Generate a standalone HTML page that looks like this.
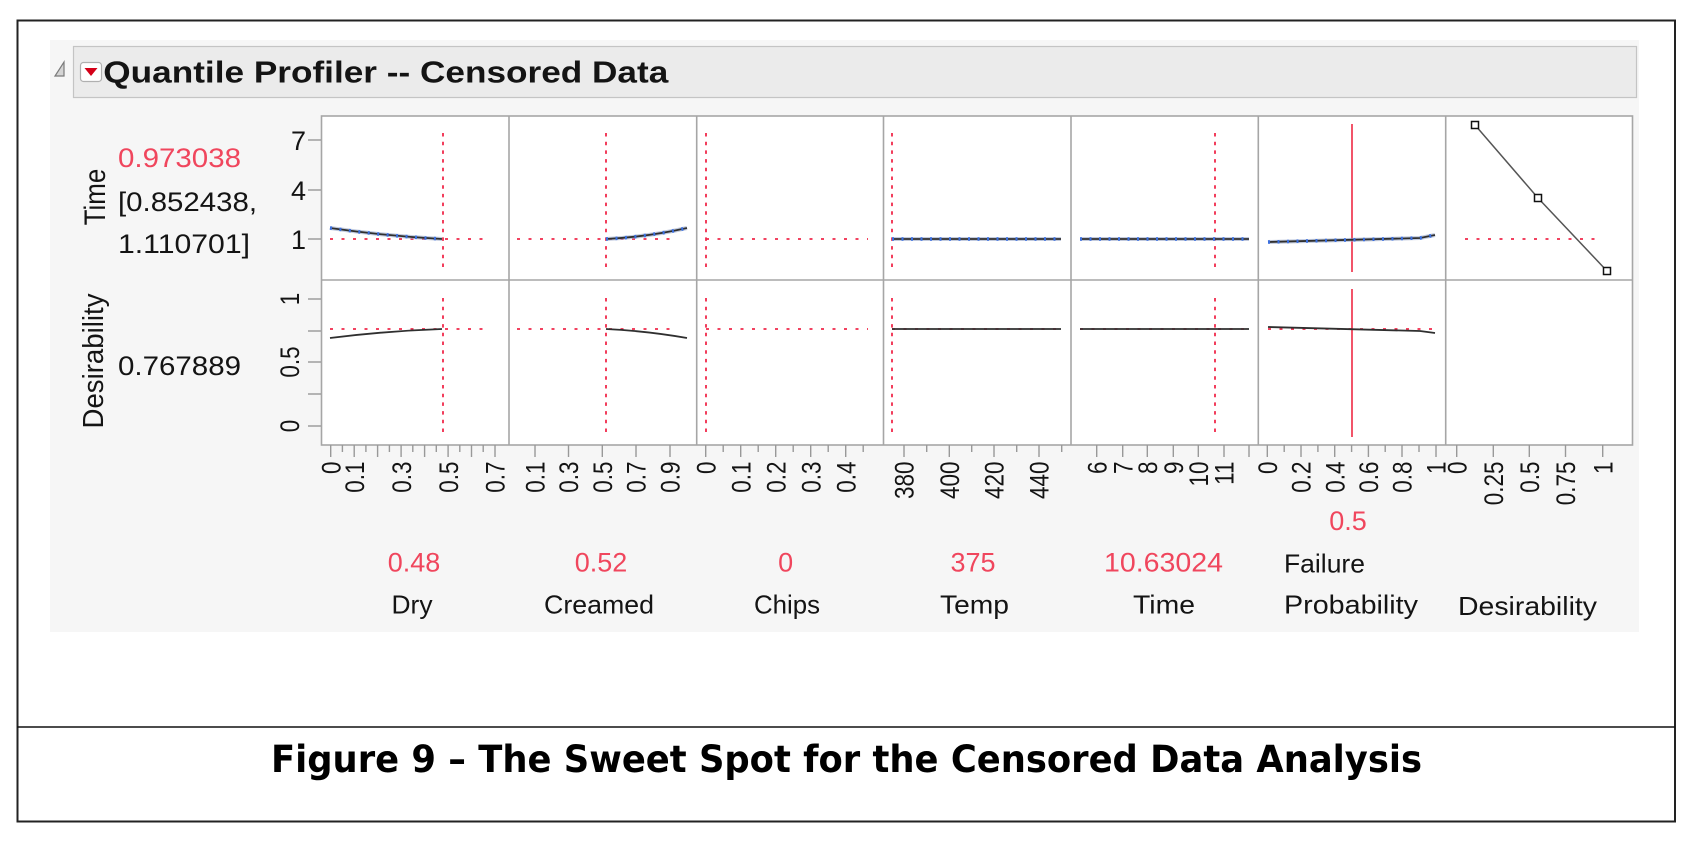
<!DOCTYPE html>
<html>
<head>
<meta charset="utf-8">
<style>
html,body{margin:0;padding:0;background:#fff;}
svg{display:block;}
text{font-family:"Liberation Sans",Arial,sans-serif;}
</style>
</head>
<body>
<svg width="1688" height="844" viewBox="0 0 1688 844" xmlns="http://www.w3.org/2000/svg">
  <!-- background -->
  <rect x="0" y="0" width="1688" height="844" fill="#ffffff"/>
  <!-- outer border -->
  <rect x="17.5" y="20.5" width="1657.5" height="801" fill="none" stroke="#222" stroke-width="2"/>
  <line x1="17" y1="727" x2="1675" y2="727" stroke="#111" stroke-width="1.6"/>

  <!-- gray panel -->
  <rect x="50" y="40" width="1589" height="592" fill="#f6f6f6"/>
  <!-- header -->
  <rect x="73.5" y="46.5" width="1563" height="51" fill="#ebebeb" stroke="#c4c4c4" stroke-width="1.2"/>
  <!-- disclosure triangle -->
  <polygon points="64,62 64,76 55,76" fill="#d4d4d4" stroke="#7a7a7a" stroke-width="1.2"/>
  <!-- red dropdown icon -->
  <rect x="80.5" y="62.5" width="21" height="19" rx="3" fill="#fff" stroke="#b0b0b0" stroke-width="1.2"/>
  <polygon points="84.5,68 97.5,68 91,76" fill="#d40018"/>
  <text x="103.3" y="82.7" font-weight="bold" font-size="31" textLength="565" lengthAdjust="spacingAndGlyphs" fill="#141414">Quantile Profiler -- Censored Data</text>

  <!-- plot area -->
  <rect x="321.5" y="116" width="1311" height="329" fill="#ffffff" stroke="#a6a6a6" stroke-width="1.6"/>
  <g stroke="#a6a6a6" stroke-width="1.6">
    <line x1="509" y1="116" x2="509" y2="445"/>
    <line x1="696.7" y1="116" x2="696.7" y2="445"/>
    <line x1="883.5" y1="116" x2="883.5" y2="445"/>
    <line x1="1071" y1="116" x2="1071" y2="445"/>
    <line x1="1258.3" y1="116" x2="1258.3" y2="445"/>
    <line x1="1445.7" y1="116" x2="1445.7" y2="445"/>
    <line x1="321.5" y1="280" x2="1632.5" y2="280"/>
  </g>

  <!-- left y-axis ticks -->
  <g stroke="#999" stroke-width="1.4">
    <line x1="308" y1="140" x2="321" y2="140"/>
    <line x1="308" y1="190" x2="321" y2="190"/>
    <line x1="308" y1="239" x2="321" y2="239"/>
    <line x1="308" y1="299" x2="321" y2="299"/>
    <line x1="308" y1="331" x2="321" y2="331"/>
    <line x1="308" y1="362" x2="321" y2="362"/>
    <line x1="308" y1="394" x2="321" y2="394"/>
    <line x1="308" y1="426" x2="321" y2="426"/>
  </g>
  <g font-size="27" fill="#141414" text-anchor="end">
    <text x="306" y="150">7</text>
    <text x="306" y="200">4</text>
    <text x="306" y="249">1</text>
  </g>
  <g font-size="22.5" fill="#141414" text-anchor="middle">
    <text transform="translate(299,299) rotate(-90) scale(1,1.2)">1</text>
    <text transform="translate(299,362) rotate(-90) scale(1,1.2)">0.5</text>
    <text transform="translate(299,426) rotate(-90) scale(1,1.2)">0</text>
  </g>

  <!-- left labels -->
  <g font-size="26" fill="#141414" text-anchor="middle">
    <text transform="translate(105,197) rotate(-90) scale(1,1.15)">Time</text>
    <text transform="translate(103,361) rotate(-90) scale(1,1.1)" textLength="135" lengthAdjust="spacingAndGlyphs">Desirability</text>
  </g>
  <g font-size="27">
    <text x="118" y="167" fill="#f0465d" textLength="123" lengthAdjust="spacingAndGlyphs">0.973038</text>
    <text x="118" y="211" fill="#141414" textLength="139" lengthAdjust="spacingAndGlyphs">[0.852438,</text>
    <text x="118" y="253" fill="#141414" textLength="132" lengthAdjust="spacingAndGlyphs">1.110701]</text>
    <text x="118" y="375" fill="#141414" textLength="123" lengthAdjust="spacingAndGlyphs">0.767889</text>
  </g>

  <!-- red dotted reference lines -->
  <g stroke="#f0284a" stroke-width="1.8" fill="none">
    <g stroke-dasharray="3 8.5">
      <line x1="330" y1="239" x2="491" y2="239"/>
      <line x1="517" y1="239" x2="678" y2="239"/>
      <line x1="706" y1="239" x2="868" y2="239"/>
      <line x1="1465" y1="239" x2="1603" y2="239"/>
      <line x1="330" y1="329" x2="491" y2="329"/>
      <line x1="517" y1="329" x2="678" y2="329"/>
      <line x1="706" y1="329" x2="868" y2="329"/>
      <line x1="892" y1="329" x2="1061" y2="329"/>
      <line x1="1080" y1="329" x2="1249" y2="329"/>
      <line x1="1268" y1="329" x2="1435" y2="329"/>
    </g>
    <g stroke-dasharray="3.5 5.2">
      <line x1="443" y1="133" x2="443" y2="272"/>
      <line x1="606" y1="133" x2="606" y2="272"/>
      <line x1="706" y1="133" x2="706" y2="272"/>
      <line x1="892" y1="133" x2="892" y2="272"/>
      <line x1="1215" y1="133" x2="1215" y2="272"/>
      <line x1="443" y1="298" x2="443" y2="437"/>
      <line x1="606" y1="298" x2="606" y2="437"/>
      <line x1="706" y1="298" x2="706" y2="437"/>
      <line x1="892" y1="298" x2="892" y2="437"/>
      <line x1="1215" y1="298" x2="1215" y2="437"/>
    </g>
    <line x1="1352" y1="124" x2="1352" y2="272" stroke="#ee2a44" stroke-width="1.6"/>
    <line x1="1352" y1="289" x2="1352" y2="437" stroke="#ee2a44" stroke-width="1.6"/>
  </g>

  <!-- response curves row 1 -->
  <g fill="none">
    <g stroke="#9aa8c8" stroke-width="4" opacity="0.6">
      <path d="M330,228 Q386,236 442,239"/>
      <path d="M606,239 Q647,237 687,228"/>
      <path d="M892,239 L1061,239"/>
      <path d="M1080,239 L1249,239"/>
      <path d="M1268,242 L1420,238 L1435,235"/>
    </g>
    <g stroke="#2f2f2f" stroke-width="1.8">
      <path d="M330,228 Q386,236 442,239"/>
      <path d="M606,239 Q647,237 687,228"/>
      <path d="M892,239 L1061,239"/>
      <path d="M1080,239 L1249,239"/>
      <path d="M1268,242 L1420,238 L1435,235"/>
    </g>
    <g stroke="#3a6fe0" stroke-width="3.5" stroke-dasharray="2 7.5">
      <path d="M330,228 Q386,236 442,239"/>
      <path d="M606,239 Q647,237 687,228"/>
      <path d="M892,239 L1061,239"/>
      <path d="M1080,239 L1249,239"/>
      <path d="M1268,242 L1420,238 L1435,235"/>
    </g>
    <!-- row 2 -->
    <g stroke="#2f2f2f" stroke-width="1.8">
      <path d="M330,338 Q386,331 442,329"/>
      <path d="M606,329 Q647,331 687,338"/>
      <path d="M892,329 L1061,329"/>
      <path d="M1080,329 L1249,329"/>
      <path d="M1268,327 L1420,331 L1435,333"/>
    </g>
    <!-- desirability function -->
    <path d="M1475,125 L1538,198 L1607,271" stroke="#555" stroke-width="1.5"/>
  </g>
  <g fill="#fff" stroke="#111" stroke-width="1.5">
    <rect x="1471.5" y="121.5" width="7" height="7"/>
    <rect x="1534.5" y="194.5" width="7" height="7"/>
    <rect x="1603.5" y="267.5" width="7" height="7"/>
  </g>

  <!-- bottom axis ticks -->
  <g stroke="#999" stroke-width="1.4">
    <path d="M330.7,445v12 M354.2,445v12 M377.6,445v12 M401.1,445v12 M424.6,445v12 M448.1,445v12 M471.5,445v12 M495,445v12"/>
    <path d="M342.4,445v7 M365.9,445v7 M389.4,445v7 M412.8,445v7 M436.3,445v7 M459.8,445v7 M483.2,445v7"/>
    <path d="M535,445v12 M568.5,445v12 M602.3,445v12 M636,445v12 M670,445v12"/>
    <path d="M705.7,445v12 M740.7,445v12 M775.7,445v12 M810.7,445v12 M845.7,445v12"/>
    <path d="M723.2,445v7 M758.2,445v7 M793.2,445v7 M828.2,445v7 M863.2,445v7"/>
    <path d="M904,445v12 M949.3,445v12 M994,445v12 M1039,445v12"/>
    <path d="M926.7,445v7 M971.7,445v7 M1016.7,445v7 M1061.7,445v7"/>
    <path d="M1096.7,445v12 M1122.7,445v12 M1147.3,445v12 M1173.3,445v12 M1198.3,445v12 M1224,445v12 M1249,445v12"/>
    <path d="M1267.3,445v12 M1301,445v12 M1334.7,445v12 M1368.4,445v12 M1402,445v12 M1436,445v12"/>
    <path d="M1284.2,445v7 M1317.9,445v7 M1351.6,445v7 M1385.2,445v7 M1419,445v7"/>
    <path d="M1456.7,445v12 M1493.3,445v12 M1529.3,445v12 M1565.5,445v12 M1602.7,445v12"/>
  </g>

  <!-- bottom axis labels (rotated) -->
  <g font-size="22.5" fill="#141414" text-anchor="end">
    <text transform="translate(340.4,461.5) rotate(-90) scale(1,1.2)">0</text>
    <text transform="translate(363.9,461.5) rotate(-90) scale(1,1.2)">0.1</text>
    <text transform="translate(410.8,461.5) rotate(-90) scale(1,1.2)">0.3</text>
    <text transform="translate(457.8,461.5) rotate(-90) scale(1,1.2)">0.5</text>
    <text transform="translate(504.7,461.5) rotate(-90) scale(1,1.2)">0.7</text>

    <text transform="translate(544.7,461.5) rotate(-90) scale(1,1.2)">0.1</text>
    <text transform="translate(578.2,461.5) rotate(-90) scale(1,1.2)">0.3</text>
    <text transform="translate(612,461.5) rotate(-90) scale(1,1.2)">0.5</text>
    <text transform="translate(645.7,461.5) rotate(-90) scale(1,1.2)">0.7</text>
    <text transform="translate(679.7,461.5) rotate(-90) scale(1,1.2)">0.9</text>

    <text transform="translate(715.4,461.5) rotate(-90) scale(1,1.2)">0</text>
    <text transform="translate(750.4,461.5) rotate(-90) scale(1,1.2)">0.1</text>
    <text transform="translate(785.4,461.5) rotate(-90) scale(1,1.2)">0.2</text>
    <text transform="translate(820.4,461.5) rotate(-90) scale(1,1.2)">0.3</text>
    <text transform="translate(855.4,461.5) rotate(-90) scale(1,1.2)">0.4</text>

    <text transform="translate(913.7,461.5) rotate(-90) scale(1,1.2)">380</text>
    <text transform="translate(959,461.5) rotate(-90) scale(1,1.2)">400</text>
    <text transform="translate(1003.7,461.5) rotate(-90) scale(1,1.2)">420</text>
    <text transform="translate(1048.7,461.5) rotate(-90) scale(1,1.2)">440</text>

    <text transform="translate(1106.4,461.5) rotate(-90) scale(1,1.2)">6</text>
    <text transform="translate(1132.4,461.5) rotate(-90) scale(1,1.2)">7</text>
    <text transform="translate(1157,461.5) rotate(-90) scale(1,1.2)">8</text>
    <text transform="translate(1183,461.5) rotate(-90) scale(1,1.2)">9</text>
    <text transform="translate(1208,461.5) rotate(-90) scale(1,1.2)">10</text>
    <text transform="translate(1233.7,461.5) rotate(-90) scale(1,1.2)">11</text>

    <text transform="translate(1277,461.5) rotate(-90) scale(1,1.2)">0</text>
    <text transform="translate(1310.7,461.5) rotate(-90) scale(1,1.2)">0.2</text>
    <text transform="translate(1344.4,461.5) rotate(-90) scale(1,1.2)">0.4</text>
    <text transform="translate(1378.1,461.5) rotate(-90) scale(1,1.2)">0.6</text>
    <text transform="translate(1411.7,461.5) rotate(-90) scale(1,1.2)">0.8</text>
    <text transform="translate(1445.7,461.5) rotate(-90) scale(1,1.2)">1</text>

    <text transform="translate(1466.4,461.5) rotate(-90) scale(1,1.2)">0</text>
    <text transform="translate(1503,461.5) rotate(-90) scale(1,1.2)">0.25</text>
    <text transform="translate(1539,461.5) rotate(-90) scale(1,1.2)">0.5</text>
    <text transform="translate(1575.2,461.5) rotate(-90) scale(1,1.2)">0.75</text>
    <text transform="translate(1612.4,461.5) rotate(-90) scale(1,1.2)">1</text>
  </g>

  <!-- factor values -->
  <g font-size="27" fill="#f0465d" text-anchor="middle">
    <text x="414" y="571.7">0.48</text>
    <text x="601" y="571.7">0.52</text>
    <text x="785.7" y="571.7">0</text>
    <text x="973" y="571.7">375</text>
    <text x="1163.5" y="571.7" textLength="119" lengthAdjust="spacingAndGlyphs">10.63024</text>
    <text x="1348" y="530">0.5</text>
  </g>
  <!-- factor names -->
  <g font-size="26" fill="#141414">
    <text x="412" y="613.3" text-anchor="middle" textLength="41" lengthAdjust="spacingAndGlyphs">Dry</text>
    <text x="599" y="613.3" text-anchor="middle" textLength="110" lengthAdjust="spacingAndGlyphs">Creamed</text>
    <text x="787" y="613.3" text-anchor="middle" textLength="66" lengthAdjust="spacingAndGlyphs">Chips</text>
    <text x="974.5" y="613.3" text-anchor="middle" textLength="69" lengthAdjust="spacingAndGlyphs">Temp</text>
    <text x="1164" y="613.3" text-anchor="middle" textLength="62" lengthAdjust="spacingAndGlyphs">Time</text>
    <text x="1284" y="572.7" textLength="81" lengthAdjust="spacingAndGlyphs">Failure</text>
    <text x="1284" y="613.3" textLength="134" lengthAdjust="spacingAndGlyphs">Probability</text>
    <text x="1458" y="615" textLength="139" lengthAdjust="spacingAndGlyphs">Desirability</text>
  </g>

  <!-- caption -->
  <text x="271" y="772" style="font-family:'DejaVu Sans','Liberation Sans',sans-serif;" font-weight="bold" font-size="37" textLength="1151" lengthAdjust="spacingAndGlyphs" fill="#000">Figure 9 – The Sweet Spot for the Censored Data Analysis</text>
</svg>
</body>
</html>
